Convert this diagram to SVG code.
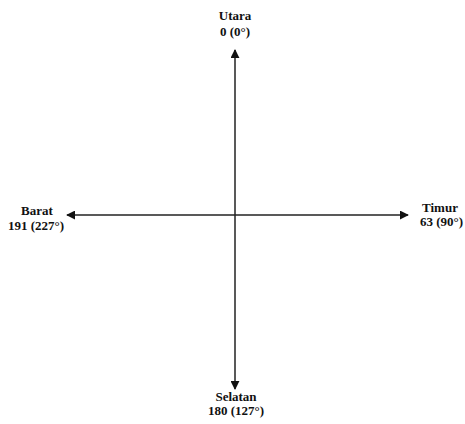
<svg xmlns="http://www.w3.org/2000/svg" width="465" height="424" viewBox="0 0 465 424">
<style>
text{font-family:"Liberation Serif","Times New Roman",serif;font-weight:bold;font-size:13px;fill:#111;text-anchor:middle}
.ax{stroke:#222;stroke-width:1.5;fill:none}
</style>
<defs>
<marker id="ah" viewBox="0 0 10 10" refX="9" refY="5" markerWidth="9" markerHeight="9" markerUnits="userSpaceOnUse" orient="auto"><path d="M0,0 L10,5 L0,10 z" fill="#111"/></marker>
</defs>
<rect width="465" height="424" fill="#fff"/>
<g id="connectors">
<line class="ax" x1="235" y1="215" x2="235" y2="50" marker-end="url(#ah)"/>
<line class="ax" x1="235" y1="215" x2="235" y2="389" marker-end="url(#ah)"/>
<line class="ax" x1="235" y1="215" x2="67" y2="215" marker-end="url(#ah)"/>
<line class="ax" x1="235" y1="215" x2="408" y2="215" marker-end="url(#ah)"/>
</g>
<g id="utara"><text x="235" y="20">Utara</text><text x="235" y="36">0 (0°)</text></g>
<g id="barat"><text x="37" y="215">Barat</text><text x="36" y="230">191 (227°)</text></g>
<g id="timur"><text x="440" y="212">Timur</text><text x="463" y="226" style="text-anchor:end">63 (90°)</text></g>
<g id="selatan"><text x="236" y="401">Selatan</text><text x="236" y="415">180 (127°)</text></g>
</svg>
